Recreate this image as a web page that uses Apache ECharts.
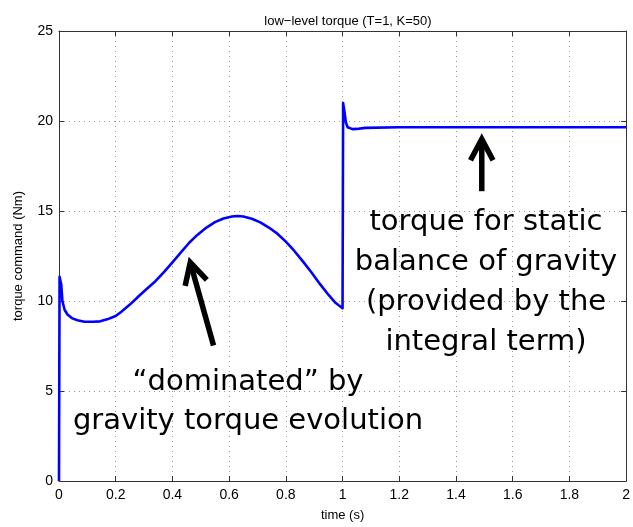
<!DOCTYPE html>
<html>
<head>
<meta charset="utf-8">
<script src="https://cdn.jsdelivr.net/npm/echarts@6/dist/echarts.min.js"></script>
<style>
  html, body { margin: 0; padding: 0; background: #fff; }
  #chart { width: 633px; height: 527px; }
</style>
</head>
<body>
<div id="chart"></div>
<script>
// time samples (s) and torque command (Nm)
var timeS = [0, 0.002, 0.005, 0.008, 0.012, 0.02, 0.03, 0.045, 0.065, 0.09,
  0.12, 0.145, 0.17, 0.2, 0.22, 0.25, 0.28, 0.31, 0.34, 0.37,
  0.4, 0.43, 0.46, 0.49, 0.52, 0.55, 0.58, 0.61, 0.63, 0.65,
  0.68, 0.71, 0.74, 0.77, 0.8, 0.83, 0.86, 0.89, 0.92, 0.95,
  0.975, 1.0, 1.002, 1.006, 1.012, 1.018, 1.025, 1.035, 1.05, 1.08,
  1.2, 1.4, 1.6, 1.8, 2.0];
var torque = [0, 11.35, 11.3, 10.9, 10.0, 9.5, 9.25, 9.05, 8.93, 8.85,
  8.85, 8.87, 8.98, 9.17, 9.4, 9.8, 10.25, 10.68, 11.1, 11.6,
  12.15, 12.7, 13.25, 13.7, 14.08, 14.38, 14.58, 14.69, 14.72, 14.69,
  14.57, 14.37, 14.08, 13.74, 13.3, 12.78, 12.2, 11.6, 10.95, 10.35,
  9.9, 9.6, 21.0, 20.6, 19.9, 19.65, 19.55, 19.55, 19.56, 19.62,
  19.65, 19.65, 19.65, 19.65, 19.65];

// annotation arrows in data coords: [tail, tip]
var arrowLeft = [[0.545, 7.53], [0.463, 12.14]];
var arrowRight = [[1.491, 16.1], [1.491, 19.0]];

var noteRight = "torque for static\nbalance of gravity\n(provided by the\nintegral term)";
var noteLeft = "\u201cdominated\u201d by\ngravity torque evolution";

var chart = echarts.init(document.getElementById("chart"));

var gridDots = { show: true, lineStyle: { color: "#999", width: 1, type: [1, 4] } };
var axisCol = "#333";

function boxAxis(pos, isX) {
  return {
    type: "value",
    position: pos,
    min: 0,
    max: isX ? 2 : 25,
    interval: isX ? 0.2 : 5,
    axisLine: { show: true, onZero: false, lineStyle: { color: axisCol, width: 1 } },
    axisTick: { show: true, inside: true, length: 5, lineStyle: { color: axisCol } },
    axisLabel: { show: false },
    splitLine: { show: false }
  };
}

chart.setOption({
  animation: false,
  title: {
    text: "low\u2212level torque (T=1, K=50)",
    left: 343,
    top: 10,
    textAlign: "center",
    textStyle: { fontFamily: "Liberation Sans", fontSize: 13, fontWeight: "normal", color: "#000" }
  },
  grid: { left: 59, right: 5, top: 31, bottom: 42 },
  xAxis: [
    {
      type: "value",
      position: "bottom",
      min: 0,
      max: 2,
      interval: 0.2,
      name: "time (s)",
      nameLocation: "middle",
      nameGap: 28,
      nameTextStyle: { fontFamily: "Liberation Sans", fontSize: 13, color: "#000" },
      axisLine: { show: true, onZero: false, lineStyle: { color: axisCol, width: 1 } },
      axisTick: { show: true, inside: true, length: 5, lineStyle: { color: axisCol } },
      axisLabel: { margin: 7, fontFamily: "Liberation Sans", fontSize: 14, color: "#000" },
      splitLine: gridDots
    },
    boxAxis("top", true)
  ],
  yAxis: [
    {
      type: "value",
      position: "left",
      min: 0,
      max: 25,
      interval: 5,
      name: "torque command (Nm)",
      nameLocation: "middle",
      nameGap: 34,
      nameTextStyle: { fontFamily: "Liberation Sans", fontSize: 13, color: "#000" },
      axisLine: { show: true, onZero: false, lineStyle: { color: axisCol, width: 1 } },
      axisTick: { show: true, inside: true, length: 5, lineStyle: { color: axisCol } },
      axisLabel: { margin: 6, fontFamily: "Liberation Sans", fontSize: 14, color: "#000" },
      splitLine: gridDots
    },
    boxAxis("right", false)
  ],
  series: [
    {
      type: "line",
      data: timeS.map(function (t, i) { return [t, torque[i]]; }),
      showSymbol: false,
      lineStyle: { color: "#0000ff", width: 2.6, join: "round" },
      z: 3
    }
  ]
});

function arrowShapes(arrow, id) {
  var tail = chart.convertToPixel({ gridIndex: 0 }, arrow[0]);
  var tip = chart.convertToPixel({ gridIndex: 0 }, arrow[1]);
  var dx = tail[0] - tip[0], dy = tail[1] - tip[1];
  var len = Math.sqrt(dx * dx + dy * dy);
  var ux = dx / len, uy = dy / len;
  var L = 24, ang = 28 * Math.PI / 180;
  function rot(a) {
    return [tip[0] + L * (ux * Math.cos(a) - uy * Math.sin(a)),
            tip[1] + L * (ux * Math.sin(a) + uy * Math.cos(a))];
  }
  return [
    { type: "line", id: id + "s", z: 10,
      shape: { x1: tail[0], y1: tail[1], x2: tip[0] + ux * 2, y2: tip[1] + uy * 2 },
      style: { stroke: "#000", lineWidth: 5.5 } },
    { type: "polyline", id: id + "h", z: 10,
      shape: { points: [rot(ang), tip, rot(-ang)] },
      style: { stroke: "#000", lineWidth: 5.5, fill: null, lineJoin: "miter" } }
  ];
}

chart.setOption({
  graphic: arrowShapes(arrowLeft, "a1").concat(arrowShapes(arrowRight, "a2")).concat([
    { type: "text", id: "t1", z: 10, x: 486, y: 282,
      style: { text: noteRight, font: "29px 'DejaVu Sans'", fill: "#000",
        align: "center", verticalAlign: "middle", lineHeight: 40 } },
    { type: "text", id: "t2", z: 10, x: 248, y: 402,
      style: { text: noteLeft, font: "29px 'DejaVu Sans'", fill: "#000",
        align: "center", verticalAlign: "middle", lineHeight: 39 } }
  ])
});
</script>
</body>
</html>
